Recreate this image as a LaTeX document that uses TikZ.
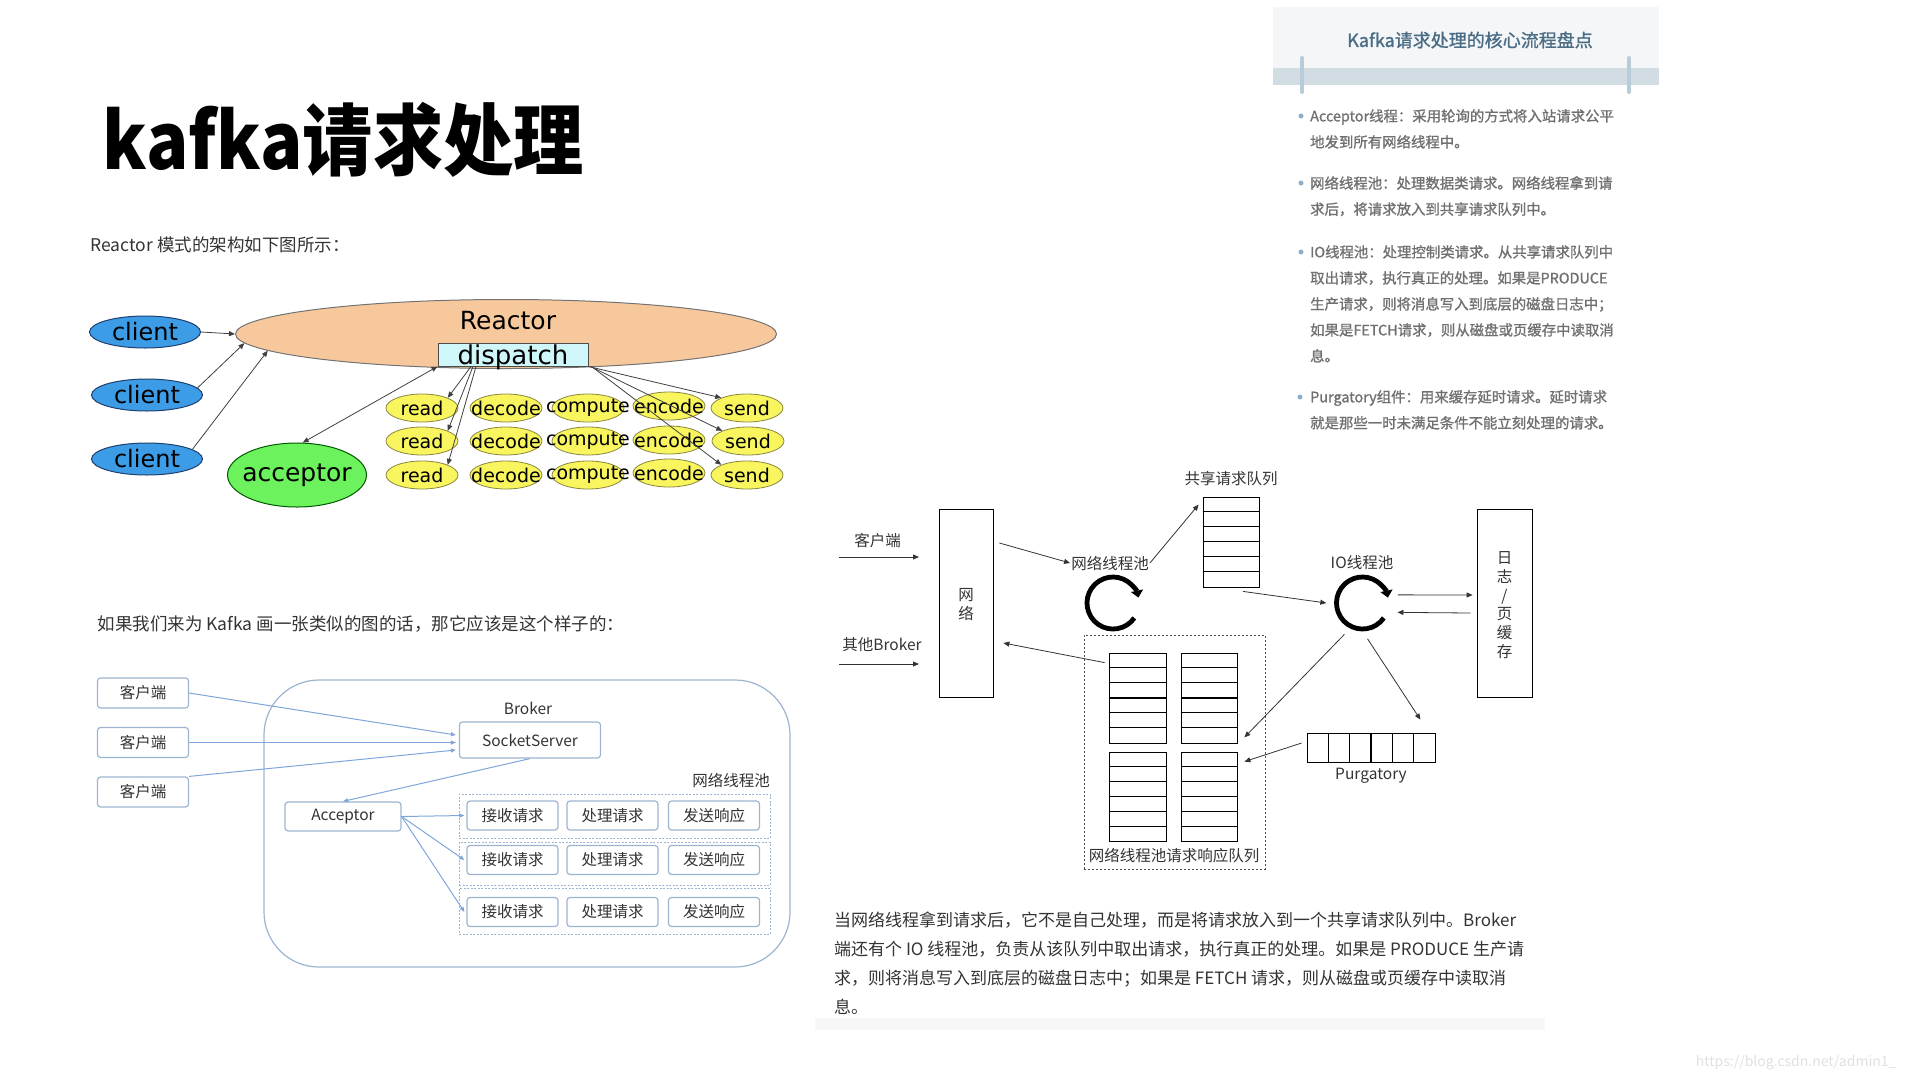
\documentclass[tikz,border=0pt]{standalone}
\usepackage{fontspec}
\setmainfont{Noto Sans CJK SC}
\newfontfamily\vfont{DejaVu Sans}
\newfontfamily\panelfont{Noto Sans CJK SC}[FakeBold=1.2]
\usepackage{xcolor}
\usepackage{tikz}
\usetikzlibrary{
  positioning,
  arrows.meta,
  shapes.geometric
}

\definecolor{clientblue}{HTML}{3C9CE6}
\definecolor{clientline}{HTML}{1E3F70}
\definecolor{reactorpeach}{HTML}{F7C89C}
\definecolor{dispatchcyan}{HTML}{CFF7FA}
\definecolor{acceptgreen}{HTML}{6CF25C}
\definecolor{stageyellow}{HTML}{F8F55E}
\definecolor{stageline}{HTML}{8A8640}
\definecolor{kline}{HTML}{9DB4D1}
\definecolor{karrow}{HTML}{7EA6DA}
\definecolor{ktext}{HTML}{333333}
\definecolor{panelbg}{HTML}{F4F6F8}
\definecolor{panelband}{HTML}{D2DCE3}
\definecolor{panelpin}{HTML}{B9CCD9}
\definecolor{paneltitle}{HTML}{4A6D85}
\definecolor{paneltext}{HTML}{707070}
\definecolor{paneldot}{HTML}{8EAFC6}

\newcommand{\ztext}[1]{\makebox[0pt]{#1}}

\begin{document}
\begin{tikzpicture}[
  x=1pt, y=-1pt,
  client/.style={
    ellipse,
    draw=clientline,
    fill=clientblue,
    line width=1pt,
    minimum width=111pt,
    minimum height=32pt,
    inner sep=0pt,
    font=\vfont\fontsize{24}{24}\selectfont
  },
  acceptor/.style={
    ellipse,
    draw=green!35!black,
    fill=acceptgreen,
    line width=1pt,
    minimum width=139pt,
    minimum height=64pt,
    inner sep=0pt,
    font=\vfont\fontsize{25}{25}\selectfont
  },
  stage/.style={
    ellipse,
    draw=stageline,
    fill=stageyellow,
    line width=0.8pt,
    minimum width=72pt,
    minimum height=28pt,
    inner sep=0pt,
    font=\vfont\fontsize{19}{19}\selectfont
  },
  rarrow/.style={
    -{Triangle[length=6pt, width=5pt]},
    line width=0.8pt,
    draw=black!75
  },
  kbox/.style={
    rectangle,
    rounded corners=3pt,
    draw=kline,
    fill=white,
    line width=1.2pt,
    text=ktext,
    font=\fontsize{15.5}{15.5}\selectfont
  },
  group/.style={
    rectangle,
    draw=kline,
    line width=1pt,
    dash pattern=on 2pt off 1.5pt
  },
  karr/.style={
    -{Triangle[length=5pt, width=4pt]},
    line width=1pt,
    draw=karrow
  },
  queue/.style={
    rectangle,
    draw=black,
    line width=0.8pt,
    inner sep=0pt
  },
  plain/.style={
    text=ktext,
    font=\fontsize{15.5}{19}\selectfont
  },
  qarr/.style={
    -{Triangle[length=6pt, width=5pt]},
    line width=0.8pt,
    draw=black!80
  },
  spin/.style={
    -{Triangle[length=7pt, width=12pt]},
    line width=4.8pt
  },
  bullet/.style={
    anchor=north west,
    align=left,
    inner sep=0pt,
    text=paneltext,
    font=\panelfont\fontsize{14.4}{26}\selectfont
  }
]
\useasboundingbox (0,0) rectangle (1920,1080);

% Title and captions
\node[anchor=base west, font=\bfseries\fontsize{78}{78}\selectfont] (title) at (99,169) {\scalebox{0.9}[1]{kafka请求处理}};
\node[anchor=base west, text=ktext, font=\fontsize{17.5}{20}\selectfont] (cap1) at (87,251) {Reactor 模式的架构如下图所示：};
\node[anchor=base west, text=ktext, font=\fontsize{17.5}{20}\selectfont] (cap2) at (94,630) {如果我们来为 Kafka 画一张类似的图的话，那它应该是这个样子的：};

% Reactor pattern
\node[ellipse, draw=black!55, fill=reactorpeach, line width=1pt, minimum width=541pt, minimum height=69pt] (re) at (506,334) {};
\node[font=\vfont\fontsize{25}{25}\selectfont] (rel) at (508,321) {Reactor};
\node[rectangle, draw=black!70, fill=dispatchcyan, line width=1pt, minimum width=150pt, minimum height=23pt, inner sep=0pt, text height=19pt, text depth=0pt, font=\vfont\fontsize{26}{26}\selectfont] (dp) at (513,354.5) {\ztext{dispatch}};
\node[client] (cl1) at (145,332) {\ztext{client}};
\node[client] (cl2) at (147,395) {\ztext{client}};
\node[client] (cl3) at (147,459) {\ztext{client}};
\node[acceptor] (ac) at (297,475) {\ztext{acceptor}};

% Row 1 (y = 408)
\node[stage] (rd1) at (422,408) {\ztext{read}};
\node[stage] (dc1) at (506,408) {\ztext{decode}};
\node[stage] (cp1) at (588,408) {\ztext{compute}};
\node[stage] (ec1) at (669,406) {\ztext{encode}};
\node[stage] (sd1) at (747,408) {\ztext{send}};
% Row 2 (y = 441)
\node[stage] (rd2) at (422,441) {\ztext{read}};
\node[stage] (dc2) at (506,441) {\ztext{decode}};
\node[stage] (cp2) at (588,441) {\ztext{compute}};
\node[stage] (ec2) at (669,440) {\ztext{encode}};
\node[stage] (sd2) at (748,441) {\ztext{send}};
% Row 3 (y = 475)
\node[stage] (rd3) at (422,475) {\ztext{read}};
\node[stage] (dc3) at (506,475) {\ztext{decode}};
\node[stage] (cp3) at (588,475) {\ztext{compute}};
\node[stage] (ec3) at (669,473) {\ztext{encode}};
\node[stage] (sd3) at (747,475) {\ztext{send}};

\draw[rarrow] (cl1.east) -- (re.west);
\draw[rarrow] (cl2.8) -- (re.182);
\draw[rarrow] (cl3.12) -- (re.184);
\draw[rarrow, {Triangle[length=6pt, width=5pt]}-{Triangle[length=6pt, width=5pt]}] (ac.80) -- (dp.south west);
\draw[rarrow] ([xshift=-42pt]dp.south) -- (rd1.north east);
\draw[rarrow] ([xshift=-40pt]dp.south) -- (rd2.north east);
\draw[rarrow] ([xshift=-37pt]dp.south) -- (rd3.north east);
\draw[rarrow] (dp.south east) -- (sd1.north west);
\draw[rarrow] ([xshift=2pt]dp.south east) -- (sd2.north west);
\draw[rarrow] ([xshift=3pt]dp.south east) -- (sd3.north west);

% Kafka broker
\node[rectangle, rounded corners=55pt, draw=kline, line width=1.2pt, minimum width=526pt, minimum height=287pt] (bk) at (527,823.5) {};
\node[plain] (bkl) at (528,708) {Broker};
\node[kbox, minimum width=91pt, minimum height=30pt] (k1) at (143,693) {客户端};
\node[kbox, minimum width=91pt, minimum height=30pt] (k2) at (143,742.5) {客户端};
\node[kbox, minimum width=91pt, minimum height=30pt] (k3) at (143,792) {客户端};
\node[kbox, minimum width=141pt, minimum height=36pt] (ss) at (530,740) {SocketServer};
\node[plain, anchor=east, inner sep=0pt] (nwl) at (770,780) {网络线程池};
\node[kbox, minimum width=116pt, minimum height=29pt] (acc) at (343,816.5) {Acceptor};

% Network thread rows
\node[group, minimum width=311pt, minimum height=44pt] (g1) at (614.5,816) {};
\node[group, minimum width=311pt, minimum height=43pt] (g2) at (614.5,863.5) {};
\node[group, minimum width=311pt, minimum height=46pt] (g3) at (614.5,911) {};
\node[kbox, minimum width=91pt, minimum height=29pt] (ra1) at (512.5,815.5) {接收请求};
\node[kbox, minimum width=91pt, minimum height=29pt] (pa1) at (612.5,815.5) {处理请求};
\node[kbox, minimum width=91pt, minimum height=29pt] (sa1) at (714,815.5) {发送响应};
\node[kbox, minimum width=91pt, minimum height=29pt] (ra2) at (512.5,860) {接收请求};
\node[kbox, minimum width=91pt, minimum height=29pt] (pa2) at (612.5,860) {处理请求};
\node[kbox, minimum width=91pt, minimum height=29pt] (sa2) at (714,860) {发送响应};
\node[kbox, minimum width=91pt, minimum height=29pt] (ra3) at (512.5,912) {接收请求};
\node[kbox, minimum width=91pt, minimum height=29pt] (pa3) at (612.5,912) {处理请求};
\node[kbox, minimum width=91pt, minimum height=29pt] (sa3) at (714,912) {发送响应};

\draw[karr] (k1.east) -- ([xshift=-3pt, yshift=5pt]ss.west);
\draw[karr] (k2.east) -- ([xshift=-3pt, yshift=-2.5pt]ss.west);
\draw[karr] (k3.north east) -- ([xshift=-3pt, yshift=-10pt]ss.west);
\draw[karr] (ss.south) -- (acc.north);
\draw[karr] (acc.east) -- ([xshift=-2pt]ra1.west);
\draw[karr] (acc.east) -- ([xshift=-2pt]ra2.west);
\draw[karr] (acc.east) -- ([xshift=-2pt]ra3.west);

% Summary panel
\fill[panelbg] (1273,7) rectangle (1659,68);
\fill[panelband] (1273,68) rectangle (1659,85);
\draw[panelpin, line width=4pt, line cap=round] (1302,58) -- (1302,92);
\draw[panelpin, line width=4pt, line cap=round] (1629,58) -- (1629,92);
\node[text=paneltitle, font=\panelfont\fontsize{18}{18}\selectfont] (pt) at (1470,40) {Kafka请求处理的核心流程盘点};
\fill[paneldot] (1301,116) circle (2.5pt);
\fill[paneldot] (1301,183) circle (2.5pt);
\fill[paneldot] (1301,252) circle (2.5pt);
\fill[paneldot] (1300,397) circle (2.5pt);
\node[bullet] (b1) at (1310,109) {Acceptor线程：采用轮询的方式将入站请求公平\\地发到所有网络线程中。};
\node[bullet] (b2) at (1310,176) {网络线程池：处理数据类请求。网络线程拿到请\\求后，将请求放入到共享请求队列中。};
\node[bullet] (b3) at (1310,245) {IO线程池：处理控制类请求。从共享请求队列中\\取出请求，执行真正的处理。如果是PRODUCE\\生产请求，则将消息写入到底层的磁盘日志中；\\如果是FETCH请求，则从磁盘或页缓存中读取消\\息。};
\node[bullet] (b4) at (1310,390) {Purgatory组件：用来缓存延时请求。延时请求\\就是那些一时未满足条件不能立刻处理的请求。};

% Request flow
\node[queue, minimum width=54pt, minimum height=188pt] (net) at (966,603) {};
\node[plain, align=center] (netl) at (966,604) {网\\络};
\node[queue, minimum width=55pt, minimum height=188pt] (log) at (1504.5,603) {};
\node[plain, align=center, font=\fontsize{15.5}{18.7}\selectfont] (logl) at (1504.5,605) {日\\志\\/\\页\\缓\\存};
\node[plain] (cli) at (877.5,541) {客户端};
\node[plain] (obr) at (882,645) {其他Broker};
\coordinate (c1a) at (839,557);
\coordinate (c1b) at (919,557);
\coordinate (c2a) at (839,664);
\coordinate (c2b) at (919,664);
\draw[qarr] (c1a) -- (c1b);
\draw[qarr] (c2a) -- (c2b);

\node[plain] (sql) at (1231,479) {共享请求队列};
\node[queue, minimum width=56pt, minimum height=90pt] (sq) at (1231,542) {};
\foreach \k in {1,...,5}
  \draw[line width=0.8pt] ([yshift={-15pt*\k}]sq.north west) -- ([yshift={-15pt*\k}]sq.north east);

\node[plain, inner sep=1pt] (npl) at (1110,563) {网络线程池};
\node[circle, minimum size=72pt, inner sep=0pt] (np) at (1113,603) {};
\draw[spin] ([shift={(-35:26pt)}]np.center) arc[start angle=-35, end angle=-348, radius=26pt];
\node[plain] (iol) at (1362,563) {IO线程池};
\node[circle, minimum size=72pt, inner sep=0pt] (io) at (1362.5,603) {};
\draw[spin] ([shift={(-35:26pt)}]io.center) arc[start angle=-35, end angle=-348, radius=26pt];

\node[rectangle, draw=black!70, line width=0.8pt, dash pattern=on 2pt off 2pt, minimum width=181pt, minimum height=234pt] (rq) at (1174.5,752) {};
\node[queue, minimum width=57pt, minimum height=90pt] (qul) at (1137.5,698) {};
\node[queue, minimum width=56pt, minimum height=90pt] (qur) at (1209,698) {};
\node[queue, minimum width=57pt, minimum height=89pt] (qll) at (1137.5,796.5) {};
\node[queue, minimum width=56pt, minimum height=89pt] (qlr) at (1209,796.5) {};
\foreach \q in {qul,qur,qll,qlr} {
  \foreach \k in {1,2,4,5}
    \draw[line width=0.8pt] ([yshift={-15pt*\k}]\q.north west) -- ([yshift={-15pt*\k}]\q.north east);
  \draw[line width=1.8pt] (\q.west) -- (\q.east);
}
\node[plain] (rql) at (1174,856) {网络线程池请求响应队列};

\node[queue, minimum width=128pt, minimum height=29pt] (pg) at (1371,747.5) {};
\foreach \k in {1,2,4,5}
  \draw[line width=0.8pt] ([xshift={21.33pt*\k}]pg.north west) -- ([xshift={21.33pt*\k}]pg.south west);
\draw[line width=1.6pt] (pg.north) -- (pg.south);
\node[plain, below=2pt of pg] (pgl) {Purgatory};

\draw[qarr] ([xshift=6pt, yshift=60pt]net.east) -- (npl.west);
\draw[qarr] (npl.east) -- ([xshift=-4pt, yshift=-8pt]sq.north west);
\draw[qarr] ([xshift=12pt, yshift=-4pt]sq.south) -- (io.180);
\draw[qarr] (io.13) -- ([xshift=-4pt, yshift=8pt]log.west);
\draw[qarr] ([xshift=-6pt, yshift=-10pt]log.west) -- (io.-15);
\draw[qarr] ([xshift=-4pt, yshift=-10pt]qul.north west) -- ([xshift=10pt, yshift=-40pt]net.east);
\draw[qarr] (io.-120) -- ([xshift=7pt, yshift=6pt]qur.south east);
\draw[qarr] (io.-82) -- ([xshift=-15pt, yshift=13pt]pg.north east);
\draw[qarr] ([xshift=-5pt, yshift=4.5pt]pg.west) -- ([xshift=7pt, yshift=-10pt]qlr.north east);

% Closing note
\fill[black!3] (815,1018) rectangle (1545,1030);
\node[anchor=north west, align=left, inner sep=0pt, text=ktext, font=\fontsize{17}{29}\selectfont] (note) at (834,912) {当网络线程拿到请求后，它不是自己处理，而是将请求放入到一个共享请求队列中。Broker\\端还有个 IO 线程池，负责从该队列中取出请求，执行真正的处理。如果是 PRODUCE 生产请\\求，则将消息写入到底层的磁盘日志中；如果是 FETCH 请求，则从磁盘或页缓存中读取消\\息。};
\node[anchor=base east, text=black!12, font=\fontsize{14}{14}\selectfont] (wm) at (1900,1066) {https://blog.csdn.net/admin1\_};

\end{tikzpicture}
\end{document}
